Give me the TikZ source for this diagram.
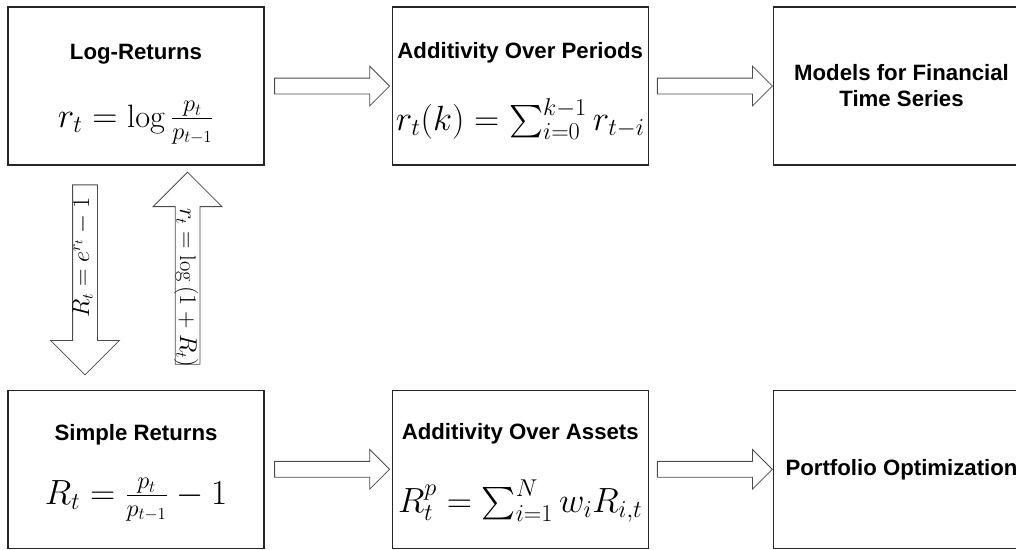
\documentclass[tikz,border=0pt]{standalone}
\usepackage{amsmath,amssymb}
\usepackage{fontspec}
\newfontfamily\arialfont{Liberation Sans}
\usetikzlibrary{positioning,calc,shapes.arrows}

\tikzset{
  box/.style={draw=black!85,line width=0.9pt,minimum width=6.4cm,minimum height=3.95cm,inner sep=0pt},
  title/.style={font=\arialfont\bfseries\fontsize{15.8}{18.5}\selectfont,align=center},
  formula/.style={font=\fontsize{23}{27}\selectfont,inner sep=0pt},
  fat/.style={single arrow,draw=black!70,line width=0.6pt,fill=white,inner sep=0pt,
    single arrow head extend=0.3cm,text height=0.375cm,text depth=0cm,minimum height=2.875cm},
  tallfat/.style={single arrow,draw=black!70,line width=0.6pt,fill=white,inner sep=0pt,
    single arrow head extend=0.55cm,text height=0.3cm,text depth=0.3cm,shape border rotate=180},
  arrowtext/.style={font=\fontsize{16}{18}\selectfont,inner sep=0pt,anchor=base}
}

\begin{document}
\begin{tikzpicture}
  \useasboundingbox (0,0) rectangle (25.4,-13.725);
  % --- top row
  \node[box] (lr) at (3.4,-2.15) {};
  \node[title] (lrt) at ([yshift=0.8cm]lr.center) {Log-Returns};
  \node[formula] (lrf) at ([yshift=-0.92cm]lr.center) {$r_t=\log\frac{p_t}{p_{t-1}}$};
  \node[box,right=3.175cm of lr] (ap) {};
  \node[title] (apt) at ([yshift=0.83cm]ap.center) {Additivity Over Periods};
  \node[formula] (apf) at ([yshift=-0.82cm]ap.center) {$r_t(k)=\sum_{i=0}^{k-1}r_{t-i}$};
  \node[box,title,right=3.1cm of ap] (mf) {Models for Financial\\Time Series};
  % --- bottom row
  \node[box,below=5.6cm of lr] (sr) {};
  \node[title] (srt) at ([yshift=0.87cm]sr.center) {Simple Returns};
  \node[formula] (srf) at ([yshift=-0.76cm]sr.center) {$R_t=\frac{p_t}{p_{t-1}}-1$};
  \node[box,right=3.175cm of sr] (aa) {};
  \node[title] (aat) at ([yshift=0.89cm]aa.center) {Additivity Over Assets};
  \node[formula] (aaf) at ([yshift=-0.8cm]aa.center) {$R_t^p=\sum_{i=1}^{N}w_iR_{i,t}$};
  \node[box,title,right=3.1cm of aa] (po) {Portfolio Optimization};
  % --- block arrows
  \node[fat] (a1) at ($(lr.east)!0.5!(ap.west)$) {};
  \node[fat] (a2) at ($(ap.east)!0.5!(mf.west)$) {};
  \node[fat] (a3) at ($(sr.east)!0.5!(aa.west)$) {};
  \node[fat] (a4) at ($(aa.east)!0.5!(po.west)$) {};
  \node[tallfat,rotate=90,minimum height=4.75cm] (dn) at ($($(lr.south)!0.5!(sr.north)$)+(-1.275,0.1)$) {};
  \node[tallfat,rotate=-90,minimum height=4.8cm] (up) at ($($(lr.south)!0.5!(sr.north)$)+(1.29,0.08)$) {};
  \node[arrowtext,rotate=90] (dnt) at ([shift={(0.1,0.4)}]dn.center) {$R_t=e^{r_t}-1$};
  \node[arrowtext,rotate=-90] (upt) at ([shift={(-0.19,-0.33)}]up.center) {$r_t=\log\left(1+R_t\right)$};
\end{tikzpicture}
\end{document}
